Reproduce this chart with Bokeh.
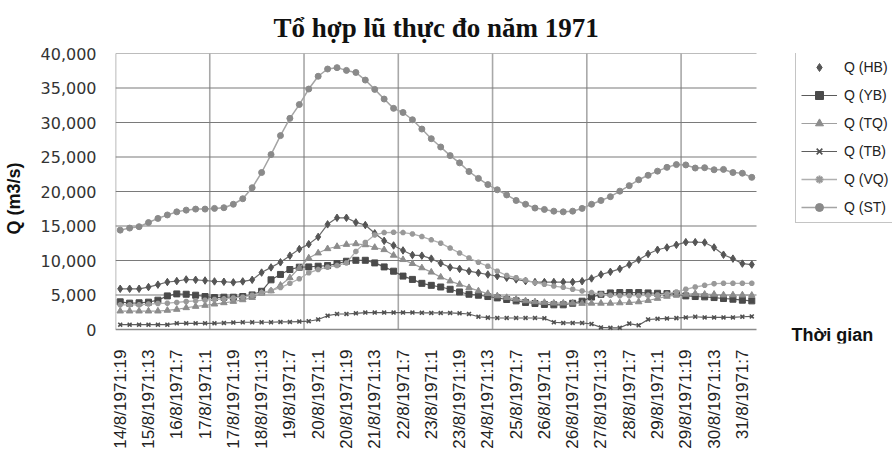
from bokeh.plotting import figure
from bokeh.models import (Range1d, FixedTicker, NumeralTickFormatter, Legend, LegendItem,
                          Label, ColumnDataSource)
from bokeh.embed import file_html
from bokeh.resources import INLINE
import math

# ---------------- data (6-hourly, 14/8/1971 19h -> 31/8/1971 13h) ----------------
tick_labels = ["14/8/1971:19", "15/8/1971:13", "16/8/1971:7", "17/8/1971:1", "17/8/1971:19",
               "18/8/1971:13", "19/8/1971:7", "20/8/1971:1", "20/8/1971:19", "21/8/1971:13",
               "22/8/1971:7", "23/8/1971:1", "23/8/1971:19", "24/8/1971:13", "25/8/1971:7",
               "26/8/1971:1", "26/8/1971:19", "27/8/1971:13", "28/8/1971:7", "29/8/1971:1",
               "29/8/1971:19", "30/8/1971:13", "31/8/1971:7"]

q_hb = [5900, 5900, 5900, 6150, 6500, 6880, 7020, 7250, 7200, 7100,
        6970, 6920, 6830, 6970, 7200, 8250, 9000, 9740, 10700, 11650,
        12370, 13420, 15240, 16190, 16190, 15520, 15140, 13940, 12850, 12180,
        11460, 10790, 10700, 10270, 9600, 9000, 8780, 8450, 8210, 7970,
        7740, 7500, 7260, 7020, 6880, 6880, 6880, 6880, 6880, 7000,
        7400, 7970, 8360, 8790, 9410, 10120, 10940, 11560, 11890, 12270,
        12660, 12660, 12610, 11890, 10840, 10270, 9550, 9410]
q_yb = [4010, 3820, 3870, 3960, 4250, 4870, 5160, 5110, 4970, 4780,
        4630, 4680, 4680, 4780, 5010, 5540, 7200, 7980, 8690, 9030,
        9070, 9170, 9260, 9550, 9890, 10030, 10030, 9650, 9070, 8450,
        7740, 7260, 6690, 6400, 6160, 5830, 5440, 5110, 4970, 4780,
        4580, 4350, 4150, 3920, 3770, 3630, 3580, 3580, 3800, 4100,
        4700, 5100, 5300, 5350, 5350, 5350, 5300, 5250, 5200, 5150,
        4870, 4780, 4730, 4630, 4490, 4390, 4250, 4150]
q_tq = [2670, 2670, 2670, 2670, 2670, 2770, 2910, 3150, 3340, 3490,
        3680, 3870, 4060, 4300, 4630, 5250, 5590, 6400, 7500, 8930,
        10360, 11080, 11700, 12030, 12320, 12420, 12270, 11890, 11560, 10750,
        10120, 9550, 8930, 8310, 7590, 7020, 6540, 6060, 5590, 5210,
        4870, 4630, 4390, 4150, 4010, 3920, 3820, 3820, 3820, 3770,
        3800, 3800, 3800, 3850, 3900, 4000, 4200, 4500, 4800, 5000,
        5100, 5200, 5100, 5100, 5000, 5000, 5000, 4950]
q_tb = [700, 700, 700, 700, 700, 700, 900, 900, 900, 900,
        900, 950, 1000, 1050, 1050, 1050, 1050, 1100, 1100, 1150,
        1200, 1450, 2000, 2250, 2250, 2350, 2450, 2450, 2450, 2450,
        2450, 2450, 2420, 2400, 2400, 2400, 2350, 2250, 1850, 1720,
        1670, 1670, 1670, 1670, 1670, 1620, 1050, 950, 950, 950,
        800, 300, 250, 250, 850, 600, 1450, 1550, 1600, 1650,
        1750, 1850, 1750, 1750, 1750, 1750, 1850, 1900]
q_vq = [3580, 3580, 3580, 3680, 3770, 3820, 3920, 4060, 4150, 4250,
        4350, 4440, 4580, 4680, 4970, 5350, 5640, 6070, 6690, 7350,
        8210, 8690, 9030, 9260, 9650, 11320, 12610, 13710, 14040, 14090,
        14040, 13850, 13470, 12990, 12510, 11800, 11080, 10360, 9740, 9170,
        8450, 7830, 7500, 7160, 6780, 6540, 6300, 6110, 5830, 5590,
        5350, 5110, 4950, 4900, 4900, 4900, 4950, 5000, 5150, 5440,
        5830, 6160, 6400, 6640, 6690, 6690, 6690, 6690]
q_st = [14400, 14700, 14900, 15500, 16100, 16600, 17050, 17300, 17450, 17450,
        17550, 17650, 18150, 18950, 20550, 22750, 25350, 28100, 30600, 32600,
        34850, 36700, 37750, 37950, 37550, 37250, 36150, 34800, 33400, 32050,
        31450, 30400, 29050, 27650, 26450, 25200, 24150, 22900, 21900, 21000,
        20250, 19500, 18700, 18150, 17600, 17400, 17150, 17050, 17150, 17550,
        18150, 18700, 19250, 20050, 20850, 21700, 22350, 22950, 23500, 23900,
        23850, 23400, 23450, 23150, 23200, 22750, 22650, 22050]

n = len(q_st)
idx = list(range(n))
y_max = 40000
y_step = 5000

# ---------------- geometry ----------------
plot_w = 641          # width of the data area (px)
plot_h = 276          # height of the data area, 0..40000 (px)
extra_right = 139     # frame extends to the right to host the legend
extra_below = 14      # frame extends below zero to host "Thời gian"
frame_w = plot_w + extra_right
frame_h = plot_h + extra_below
x0, x1 = -0.5, n - 0.5
x_end = x0 + (x1 - x0) * frame_w / plot_w
y_start = -y_max * extra_below / plot_h

p = figure(frame_width=frame_w, frame_height=frame_h,
           min_border_left=112, min_border_right=0, min_border_top=52, min_border_bottom=102,
           x_range=Range1d(x0, x_end), y_range=Range1d(y_start, y_max),
           output_backend="svg", toolbar_location=None, tools="")
p.outline_line_color = None
p.background_fill_color = "white"
p.border_fill_color = "white"
p.xgrid.visible = False
p.ygrid.visible = False

# title
p.title.text = "Tổ hợp lũ thực đo năm 1971"
p.title.align = "left"
p.title.offset = 158
p.title.standoff = 21
p.title.text_font = "Liberation Serif"
p.title.text_font_style = "bold"
p.title.text_font_size = "27px"
p.title.text_color = "#111111"

# axes
p.xaxis.ticker = FixedTicker(ticks=list(range(0, n, 3)))
p.xaxis.major_label_overrides = {i * 3: lab for i, lab in enumerate(tick_labels)}
p.xaxis.major_label_orientation = math.pi / 2
p.xaxis.major_label_text_font = "Liberation Sans"
p.xaxis.major_label_text_font_size = "17px"
p.xaxis.major_label_text_color = "#222222"
p.xaxis.major_label_standoff = 0
p.xaxis.major_tick_line_color = None
p.xaxis.minor_tick_line_color = None
p.xaxis.axis_line_color = None

p.yaxis.ticker = FixedTicker(ticks=list(range(0, y_max + 1, y_step)))
p.yaxis.formatter = NumeralTickFormatter(format="0,0")
p.yaxis.major_label_text_font = "DejaVu Sans"
p.yaxis.major_label_text_font_size = "16px"
p.yaxis.major_label_text_color = "#333333"
p.yaxis.major_label_standoff = 13
p.yaxis.major_tick_line_color = None
p.yaxis.minor_tick_line_color = None
p.yaxis.axis_line_color = None
p.yaxis.axis_label = "Q (m3/s)"
p.yaxis.axis_label_text_font = "Liberation Sans"
p.yaxis.axis_label_text_font_style = "bold"
p.yaxis.axis_label_text_font_size = "18px"
p.yaxis.axis_label_text_color = "#111111"
p.yaxis.axis_label_standoff = 14

# grid lines limited to the data area
vx = [k - 0.5 for k in range(0, n - 1, 10)]
p.segment(x0=vx, y0=[0] * len(vx), x1=vx, y1=[y_max] * len(vx),
          line_color="#a8a8a8", line_width=1.6)
hy = list(range(y_step, y_max + 1, y_step))
p.segment(x0=[x0] * len(hy), y0=hy, x1=[x1] * len(hy), y1=hy,
          line_color="#7a7a7a", line_width=1.2)
p.segment(x0=[x0], y0=[0], x1=[x1], y1=[0], line_color="#8a8a8a", line_width=1.6)

src = ColumnDataSource(dict(x=idx, hb=q_hb, yb=q_yb, tq=q_tq, tb=q_tb, vq=q_vq, st=q_st))

l_hb = p.line("x", "hb", source=src, line_color="#6a6a6a", line_width=1.2)
s_hb = p.scatter("x", "hb", source=src, marker="diamond", size=7.5, color="#555555")
l_yb = p.line("x", "yb", source=src, line_color="#5a5a5a", line_width=1.2)
s_yb = p.scatter("x", "yb", source=src, marker="square", size=6, color="#4a4a4a")
l_tq = p.line("x", "tq", source=src, line_color="#a0a0a0", line_width=1.2)
s_tq = p.scatter("x", "tq", source=src, marker="triangle", size=6.5, color="#8c8c8c")
l_tb = p.line("x", "tb", source=src, line_color="#5e5e5e", line_width=1.2)
s_tb = p.scatter("x", "tb", source=src, marker="x", size=5.5, line_color="#505050", line_width=1.6)
l_vq = p.line("x", "vq", source=src, line_color="#b0b0b0", line_width=1.3)
s_vq = p.scatter("x", "vq", source=src, marker="asterisk", size=5.5, line_color="#999999", line_width=2)
l_st = p.line("x", "st", source=src, line_color="#a4a4a4", line_width=1.5)
s_st = p.scatter("x", "st", source=src, marker="circle", size=6, color="#8a8a8a")

legend = Legend(items=[
    LegendItem(label="Q (HB)", renderers=[s_hb]),
    LegendItem(label="Q (YB)", renderers=[l_yb, s_yb]),
    LegendItem(label="Q (TQ)", renderers=[l_tq, s_tq]),
    LegendItem(label="Q (TB)", renderers=[l_tb, s_tb]),
    LegendItem(label="Q (VQ)", renderers=[l_vq, s_vq]),
    LegendItem(label="Q (ST)", renderers=[l_st, s_st]),
], location=(680, 120))
legend.label_text_font = "Liberation Sans"
legend.label_text_font_size = "14px"
legend.label_text_color = "#222222"
legend.glyph_width = 36
legend.glyph_height = 20
legend.label_height = 20
legend.spacing = 8
legend.padding = 5
legend.margin = 0
legend.label_standoff = 7
legend.border_line_color = "#8a8a8a"
legend.border_line_width = 1
legend.background_fill_color = "white"
legend.background_fill_alpha = 1
p.add_layout(legend, "center")

p.add_layout(Label(x=676, y=9, x_units="screen", y_units="screen",
                   text="Thời gian", text_align="left", text_baseline="alphabetic",
                   text_font="Liberation Sans", text_font_style="bold",
                   text_font_size="18px", text_color="#111111"))

open("out.html", "w").write(file_html(p, INLINE))
